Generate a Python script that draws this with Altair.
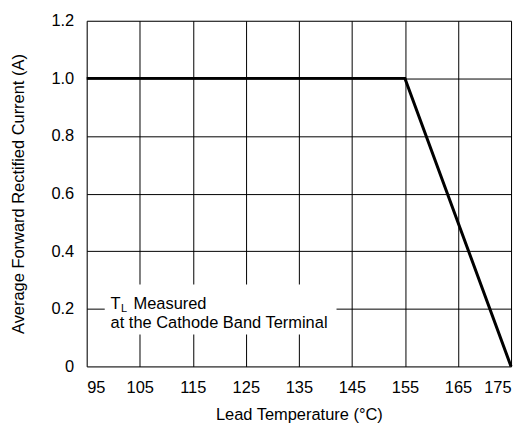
import altair as alt
import pandas as pd

# curve data
temp = [95, 155, 175]
current = [1.0, 1.0, 0.0]

x_ticks = [95, 105, 115, 125, 135, 145, 155, 165, 175]
y_ticks = [0, 0.2, 0.4, 0.6, 0.8, 1.0, 1.2]

# annotation box (data coordinates)
box_x = [98.4]
box_x2 = [142.1]
box_y = [0.111]
box_y2 = [0.284]
note_x = [99.5]
note_y1 = [0.200]
note_y2 = [0.135]

FONT = "Liberation Sans"
FS = 16.5

df = pd.DataFrame({"t": temp, "i": current})
xs = alt.Scale(domain=[95, 175], nice=False, zero=False)
ys = alt.Scale(domain=[0, 1.2], nice=False)

x_axis = alt.Axis(values=x_ticks, title="Lead Temperature (°C)", grid=True, gridColor="black",
                  gridOpacity=1, gridWidth=1, ticks=False, domain=False, labelFont=FONT,
                  labelFontSize=FS, labelColor="black", labelPadding=13, titleFont=FONT,
                  titleFontSize=FS, titleFontWeight="normal", titleColor="black", titlePadding=11)
y_axis = alt.Axis(values=y_ticks, title="Average Forward Rectified Current (A)", grid=True,
                  gridColor="black", gridOpacity=1, gridWidth=1, ticks=False, domain=False,
                  labelFont=FONT, labelFontSize=FS, labelColor="black", labelPadding=13,
                  labelExpr="datum.value == 0 ? '0' : format(datum.value, '.1f')",
                  titleFont=FONT, titleFontSize=FS, titleFontWeight="normal", titleColor="black",
                  titlePadding=24)

line = alt.Chart(df).mark_line(color="black", strokeWidth=3).encode(
    x=alt.X("t:Q", scale=xs, axis=x_axis),
    y=alt.Y("i:Q", scale=ys, axis=y_axis),
)

bdf = pd.DataFrame({"x": box_x, "x2": box_x2, "y": box_y, "y2": box_y2})
box = alt.Chart(bdf).mark_rect(fill="white", stroke=None).encode(
    x=alt.X("x:Q", scale=xs), x2="x2:Q", y=alt.Y("y:Q", scale=ys), y2="y2:Q")

ndf = pd.DataFrame({"x": note_x, "y1": note_y1, "y2": note_y2})
t1 = alt.Chart(ndf).mark_text(text="T", align="left", baseline="alphabetic", font=FONT,
                              fontSize=FS, color="black").encode(
    x=alt.X("x:Q", scale=xs), y=alt.Y("y1:Q", scale=ys))
t_sub = alt.Chart(ndf).mark_text(text="L", align="left", baseline="alphabetic", font=FONT,
                                 fontSize=11, color="black", dx=10.5, dy=3.5).encode(
    x=alt.X("x:Q", scale=xs), y=alt.Y("y1:Q", scale=ys))
t_rest = alt.Chart(ndf).mark_text(text="Measured", align="left", baseline="alphabetic",
                                  font=FONT, fontSize=FS, color="black", dx=23).encode(
    x=alt.X("x:Q", scale=xs), y=alt.Y("y1:Q", scale=ys))
t2 = alt.Chart(ndf).mark_text(text="at the Cathode Band Terminal", align="left",
                              baseline="alphabetic", font=FONT, fontSize=FS,
                              color="black").encode(
    x=alt.X("x:Q", scale=xs), y=alt.Y("y2:Q", scale=ys))

chart = alt.layer(box, line, t1, t_sub, t_rest, t2).properties(
    width=426, height=347,
    autosize=alt.AutoSizeParams(type="none"),
    padding={"left": 79, "top": 12, "right": 10, "bottom": 60},
).configure_view(stroke="black", strokeWidth=2.5).configure(background="white")

chart.save("out.html", embed_options={"renderer": "svg", "actions": False})
